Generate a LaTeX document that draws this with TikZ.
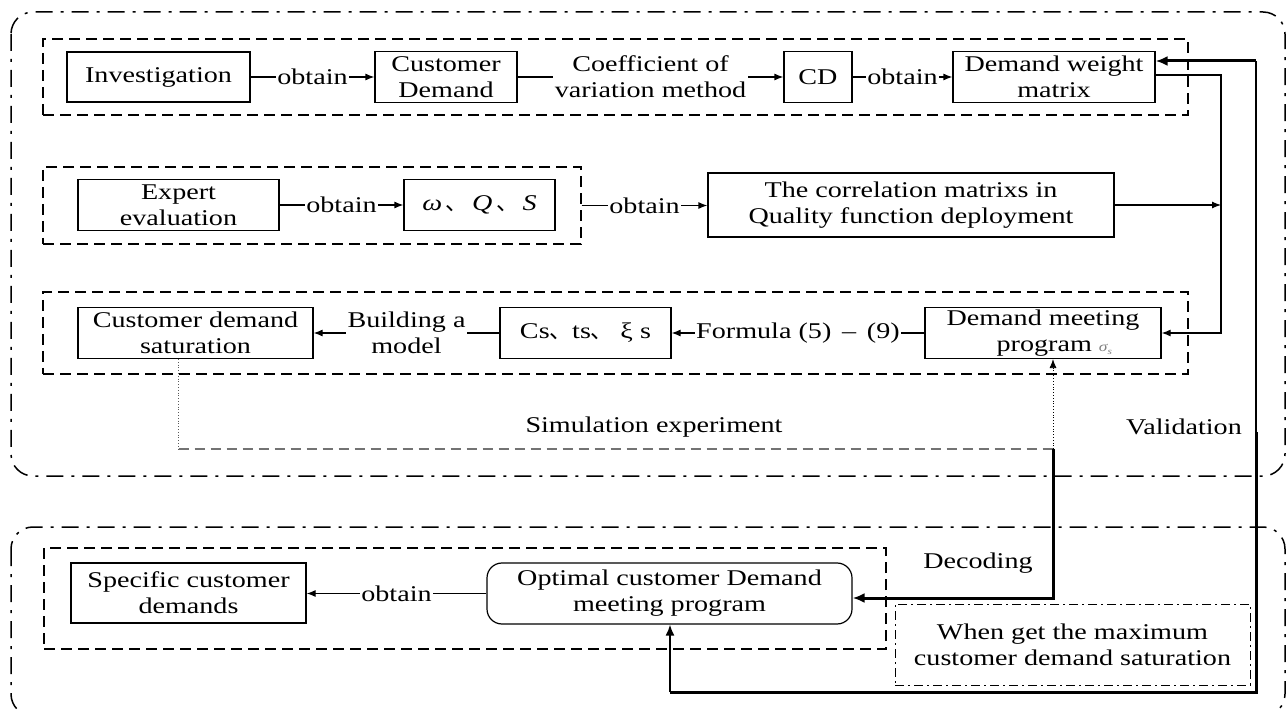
\documentclass[tikz,border=0pt]{standalone}
\usepackage{fontspec}
\setmainfont{Liberation Serif}[FakeStretch=1.25]
\newfontfamily\cjk{Noto Sans CJK SC}
\usetikzlibrary{arrows.meta}
\begin{document}
\begin{tikzpicture}[x=1pt,y=-1pt,
  every node/.style={font=\fontsize{22.5}{26}\selectfont, inner sep=0pt},
  box/.style={draw, line width=1.2pt, align=center},
  grp/.style={draw, line width=1.3pt, dash pattern=on 11pt off 6pt},
  outer/.style={line width=1.5pt, dash pattern=on 17pt off 8pt on 3pt off 8pt, rounded corners=22pt},
  whenbox/.style={draw, line width=1pt, dash pattern=on 9pt off 4pt on 2pt off 4pt, align=center},
  conn/.style={line width=1.2pt},
  arr/.style={conn, -{Latex[length=9pt,width=7pt]}},
  thk/.style={line width=3pt},
  bigarr/.style={-{Latex[length=12pt,width=10pt]}},
  dotline/.style={line width=0.8pt, dotted, gray!70!black},
  simline/.style={line width=1.2pt, dash pattern=on 10pt off 6pt, black!55},
  lbl/.style={fill=white, inner sep=1.5pt, align=center},
  txt/.style={align=center}
]
\useasboundingbox (0,0) rectangle (1286,711);

% outer dash-dot frames
\draw[outer] (11,12) rectangle (1285,476);
\draw[outer] (11,527) rectangle (1285,716);

% dashed groups
\node[grp, minimum width=1145, minimum height=76] (g1) at (615.5,77) {};
\node[grp, minimum width=538, minimum height=77] (g2) at (312,205.5) {};
\node[grp, minimum width=1145, minimum height=82] (g3) at (615.5,333) {};
\node[grp, minimum width=842, minimum height=101] (g4) at (465,598.5) {};

% row 1
\node[box, minimum width=183, minimum height=50] (inv) at (158.5,77) {Investigation};
\node[box, minimum width=142, minimum height=51] (cdem) at (446,77) {Customer\\Demand};
\node[box, minimum width=68, minimum height=51] (cd) at (818,77) {CD};
\node[box, minimum width=202, minimum height=51] (dwm) at (1054,77) {Demand weight\\matrix};

% row 2
\node[box, minimum width=201, minimum height=51] (exp) at (178.5,205) {Expert\\evaluation};
\node[box, minimum width=151, minimum height=51] (wqs) at (479.5,205) {{\itshape ω}\,{\cjk 、}\,{\itshape Q}\,{\cjk 、}\,{\itshape S}};
\node[box, minimum width=406, minimum height=64] (corr) at (911,205) {The correlation matrixs in\\Quality function deployment};

% row 3
\node[box, minimum width=235, minimum height=51] (cds) at (195.5,333) {Customer demand\\saturation};
\node[box, minimum width=171, minimum height=51] (cs) at (585.5,333) {Cs{\cjk 、}ts{\cjk 、} ξ s};
\node[box, minimum width=236, minimum height=51] (dmp) at (1043,333) {Demand meeting\\\hspace*{1em}program {\color{gray}\fontsize{14}{14}\selectfont\itshape σ\raisebox{-3pt}{\fontsize{9}{9}\selectfont s}}};

% lower part
\node[box, minimum width=235, minimum height=60] (spec) at (188.5,593) {Specific customer\\demands};
\node[box, rounded corners=15pt, minimum width=365, minimum height=61] (opt) at (669.5,593.5) {Optimal customer Demand\\meeting program};
\node[whenbox, minimum width=355, minimum height=81] (when) at (1072.5,644.5) {When get the maximum\\customer demand saturation};

% coordinates for routed connectors
\coordinate (r1) at (1221,75);
\coordinate (r2) at (1221,333);
\coordinate (s1) at (178.5,449);
\coordinate (s2) at (1053,449);
\coordinate (d1) at (1053,598);
\coordinate (v0) at (1256,61);
\coordinate (v1) at (1256,432);
\coordinate (v2) at (1256,692);
\coordinate (v3) at (670,692);

% row 1 connectors
\draw[arr] (inv.east) -- node[lbl] {obtain} (inv.east -| cdem.west);
\draw[arr] (cdem.east) -- node[lbl] {Coefficient of\\variation method} (cdem.east -| cd.west);
\draw[arr] (cd.east) -- node[lbl] {obtain} (cd.east -| dwm.west);

% row 2 connectors
\draw[arr] (exp.east) -- node[lbl] {obtain} (exp.east -| wqs.west);
\draw[arr] (g2.east) -- node[lbl] {obtain} (g2.east -| corr.west);
\draw[arr] (corr.east) -- (corr.east -| r1);

% right-hand route into row 3
\draw[arr] (dwm.east |- r1) -- (r1) -- (r2) -- (dmp.east |- r2);

% row 3 connectors
\draw[arr] (dmp.west) -- node[lbl] {Formula (5) \,–\, (9)} (dmp.west -| cs.east);
\draw[arr] (cs.west) -- node[lbl] {Building a\\model} (cs.west -| cds.east);

% simulation loop
\draw[dotline] (cds.south -| s1) -- (s1);
\draw[simline] (s1) -- (s2);
\draw[dotline, -{Latex[length=9pt,width=7pt]}, black] (s2) -- (s2 |- dmp.south);
\node[txt] (simlbl) at (654,427) {Simulation experiment};

% decoding
\draw[thk, bigarr] (s2) -- (d1) -- (d1 -| opt.east);
\node[txt] (declbl) at (978,563) {Decoding};

% validation
\draw[line width=1.2pt] (v1) -- (v0);
\draw[thk, bigarr] (v0) -- (v0 -| dwm.east);
\draw[thk] (v1) -- (v2) -- (v3);
\draw[line width=1.8pt, -{Latex[length=11pt,width=9pt]}] (v3) -- (v3 |- opt.south);
\node[txt] (vallbl) at (1184,427) {Validation};

% lower connector
\draw[arr] (opt.west) -- node[lbl] {obtain} (opt.west -| spec.east);
\end{tikzpicture}
\end{document}
